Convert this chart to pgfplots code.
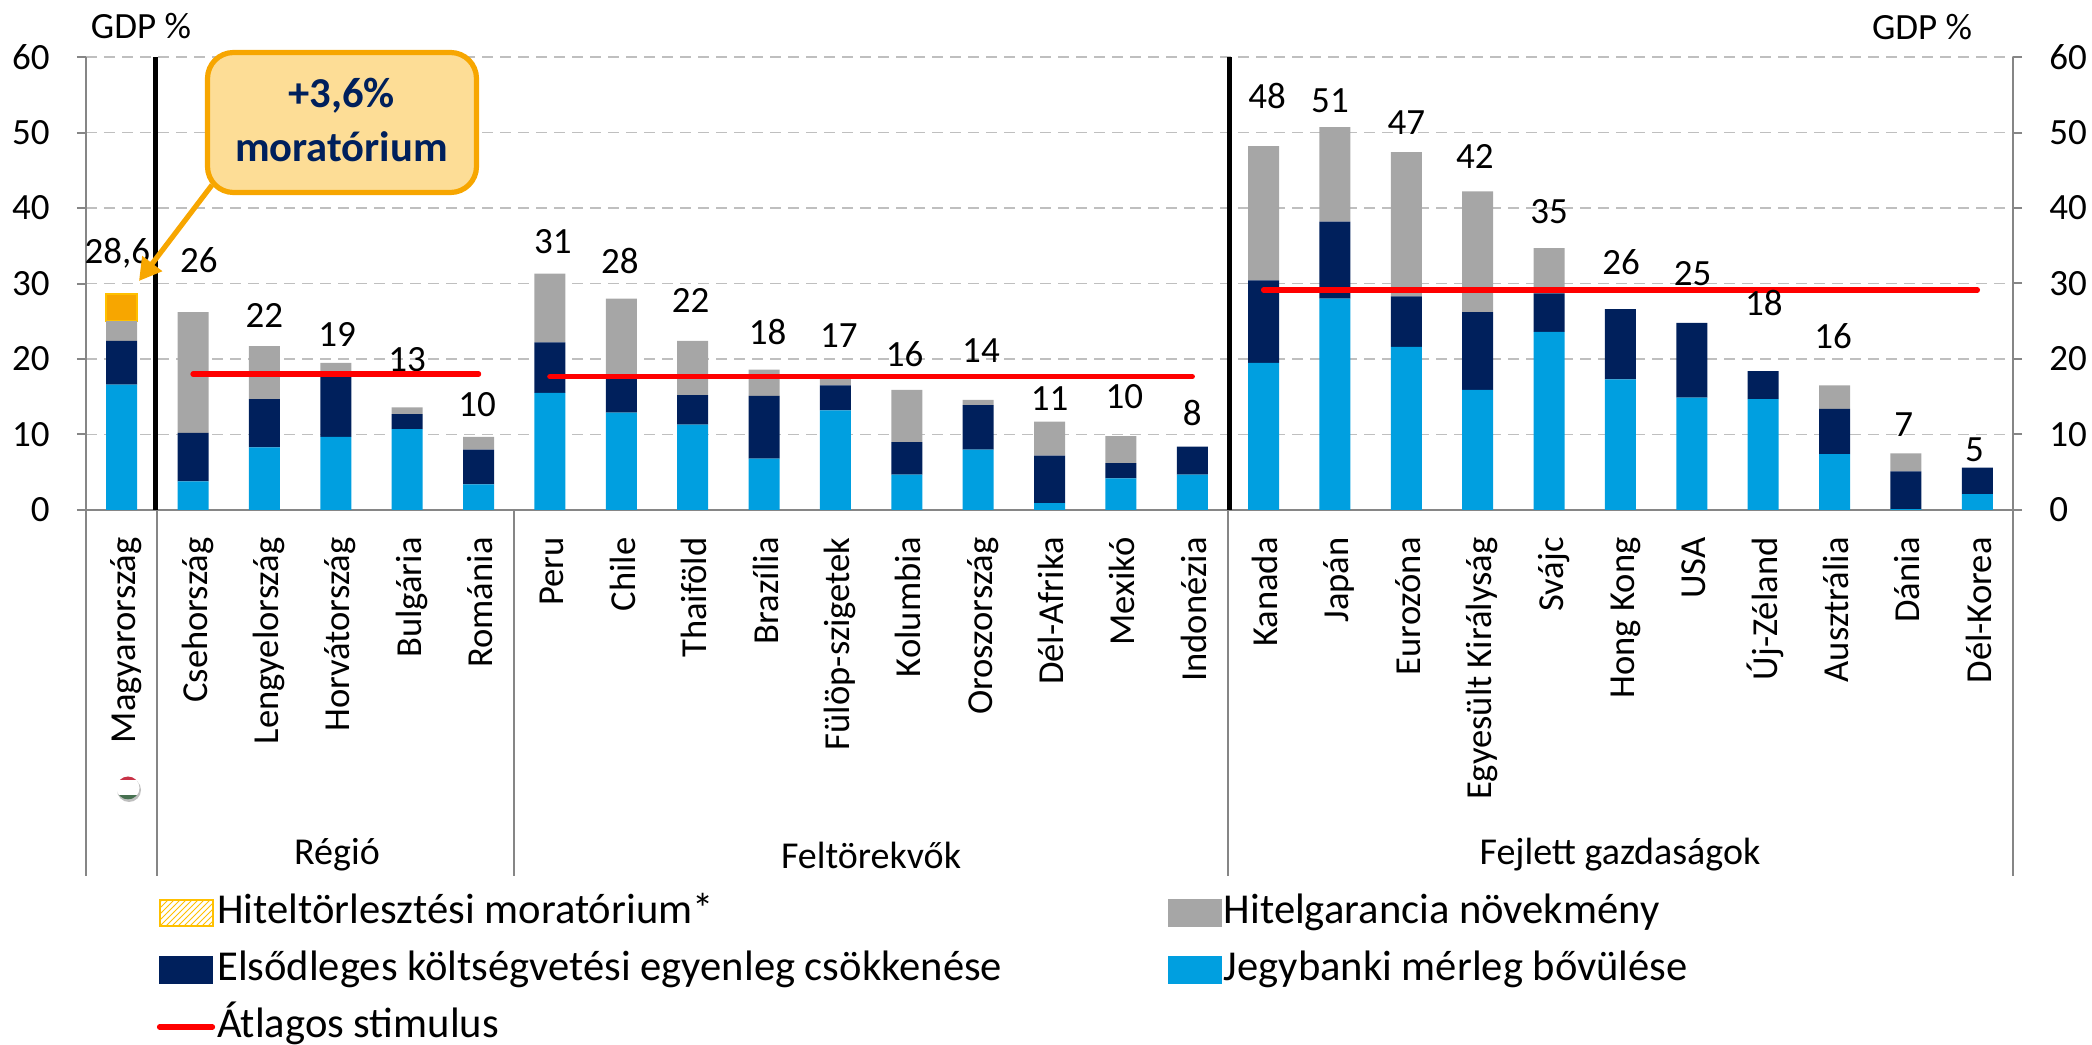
\documentclass[border=0pt]{standalone}
\usepackage{pgfplots}
\usepackage{pgfplotstable}
\usepackage{fontspec}
\setmainfont{Carlito}
\pgfplotsset{compat=1.18}
\usetikzlibrary{patterns,arrows.meta}
\definecolor{cblue}{HTML}{009FE0}
\definecolor{cnavy}{HTML}{00205C}
\definecolor{cgray}{HTML}{A6A6A6}
\definecolor{corange}{HTML}{F7A600}
\definecolor{cyell}{HTML}{FFC000}
\definecolor{cspine}{HTML}{868686}
\definecolor{cgrid}{HTML}{BFBFBF}
\definecolor{cbox}{HTML}{FDDD96}
\definecolor{cred}{HTML}{FF0000}
\pgfplotstableread{
x  blue navy gray
0  16.6 5.8 2.6
1  3.8  6.4 16.0
2  8.3  6.4 7.0
3  9.7  8.6 1.2
4  10.7 2.0 0.9
5  3.4  4.6 1.7
6  15.5 6.7 9.1
7  12.9 4.9 10.2
8  11.3 3.9 7.2
9  6.8  8.3 3.5
10 13.2 3.3 1.3
11 4.7  4.3 6.9
12 8.0  5.9 0.7
13 0.9  6.3 4.5
14 4.2  2.0 3.6
15 4.7  3.7 0
16 19.5 10.9 17.8
17 28.0 10.2 12.5
18 21.6 6.7 19.1
19 15.9 10.3 16.0
20 23.6 5.1 6.0
21 17.3 9.3 0
22 14.9 9.9 0
23 14.7 3.7 0
24 7.4  6.0 3.1
25 0.1  5.0 2.4
26 2.1  3.5 0
}\stimulus
\pgfplotstableread{
lx    ly   label
-0.06 34.3 28,6
1.08  33.1 26
2.0   25.75 22
3.02  23.2 19
4.0   20.0 13
4.98  14.0 10
6.04  35.6 31
6.98  33.05 28
7.97  27.8 22
9.05  23.6 18
10.05 23.1 17
10.97 20.7 16
12.04 21.1 14
13.0  14.7 11
14.05 15.0 10
15.0  12.9 8
16.05 54.9 48
16.93 54.2 51
18.0  51.3 47
18.96 46.8 42
20.0  39.5 35
21.01 32.8 26
22.01 31.3 25
23.01 27.45 18
23.98 23.1 16
24.97 11.3 7
25.96 8.0 5
}\labels
\newcommand{\fs}{\fontsize{18.5}{22}\selectfont}
\begin{document}
\begin{tikzpicture}
\path[use as bounding box] (0,0) rectangle (1046pt,522pt);
% base axis: bars
\begin{axis}[
  at={(43pt,267pt)}, anchor=south west,
  scale only axis, width=963.5pt, height=226.5pt,
  xmin=-0.5, xmax=26.5, ymin=0, ymax=60,
  ybar stacked, bar width=15.5pt,
  axis x line*=bottom, axis y line*=left,
  axis line style={cspine, line width=1pt, -},
  xtick={0,...,26},
  xticklabels={Magyarország,Csehország,Lengyelország,Horvátország,Bulgária,Románia,Peru,Chile,Thaiföld,Brazília,Fülöp-szigetek,Kolumbia,Oroszország,Dél-Afrika,Mexikó,Indonézia,Kanada,Japán,Eurozóna,Egyesült Királyság,Svájc,Hong Kong,USA,Új-Zéland,Ausztrália,Dánia,Dél-Korea},
  xtick style={draw=none},
  xticklabel style={rotate=90, anchor=east, inner sep=0pt, text height=14pt, text depth=0pt, xshift=-9pt, font=\fontsize{18.3}{22}\selectfont},
  ytick={0,10,...,60},
  ytick style={cspine, line width=1pt},
  tick align=outside, major tick length=4.5pt,
  yticklabel style={font=\fs, inner sep=0pt, xshift=-13.5pt, /pgf/number format/assume math mode=true},
  ymajorgrids,
  grid style={cgrid, line width=0.9pt, dash pattern=on 5.5pt off 3.5pt},
]
\addplot[fill=cblue, draw=none] table[x=x,y=blue] {\stimulus};
\addplot[fill=cnavy, draw=none] table[x=x,y=navy] {\stimulus};
\addplot[fill=cgray, draw=none] table[x=x,y=gray] {\stimulus};
\addplot[fill=corange, draw=cyell, line width=1pt] coordinates {(0,3.6)};
\end{axis}
% overlay axis: right scale, lines, value labels
\begin{axis}[
  at={(43pt,267pt)}, anchor=south west,
  scale only axis, width=963.5pt, height=226.5pt,
  xmin=-0.5, xmax=26.5, ymin=0, ymax=60,
  clip=false,
  hide x axis,
  axis y line*=right,
  axis line style={cspine, line width=1pt, -},
  ytick={0,10,...,60},
  ytick style={cspine, line width=1pt},
  tick align=outside, major tick length=4.5pt,
  yticklabel style={font=\fs, inner sep=0pt, xshift=13.5pt, /pgf/number format/assume math mode=true},
]
% separators
\addplot[forget plot, cspine, line width=1pt] coordinates {(-0.5,0) (-0.5,-48.5)};
\addplot[forget plot, cspine, line width=1pt] coordinates {(0.5,0) (0.5,-48.5)};
\addplot[forget plot, cspine, line width=1pt] coordinates {(5.5,0) (5.5,-48.5)};
\addplot[forget plot, cspine, line width=1pt] coordinates {(15.5,0) (15.5,-48.5)};
\addplot[forget plot, cspine, line width=1pt] coordinates {(26.5,0) (26.5,-48.5)};
\addplot[forget plot, black, line width=2.7pt] coordinates {(0.47,0) (0.47,60)};
\addplot[forget plot, black, line width=2.7pt] coordinates {(15.52,0) (15.52,60)};
% averages
\addplot[forget plot, cred, line width=2.7pt, line cap=round] coordinates {(6,17.66) (15,17.66)};
\addplot[forget plot, cred, line width=2.7pt, line cap=round] coordinates {(16,29.15) (26,29.15)};
% value labels
\addplot[forget plot, draw=none, mark=none, nodes near coords, point meta=explicit symbolic,
  every node near coord/.style={anchor=center, inner sep=0pt, font=\fs, text depth=0pt, text=black}]
  table[x=lx,y=ly,meta=label] {\labels};
\end{axis}
% third axis: legend and first average line
\begin{axis}[
  at={(43pt,267pt)}, anchor=south west,
  scale only axis, width=963.5pt, height=226.5pt,
  xmin=-0.5, xmax=26.5, ymin=0, ymax=60,
  clip=false, hide axis,
  legend columns=2,
  legend cell align=left,
  legend style={
    at={(0.0368,-0.85)}, anchor=north west, draw=none, fill=none,
    inner sep=0pt, outer sep=0pt,
    font=\fontsize{21.3}{25}\selectfont,
    nodes={inner sep=0pt, text height=14pt, text depth=4pt},
    row sep=10.5pt,
    /tikz/column 2/.style={column sep=83pt},
  },
]
\addlegendimage{legend image code/.code={\path[pattern=north east lines, pattern color=cyell] (0pt,-6.6pt) rectangle (26.5pt,6.6pt); \draw[cyell, line width=1pt] (0pt,-6.6pt) rectangle (26.5pt,6.6pt); \path (27.5pt,0);}}
\addlegendentry{Hiteltörlesztési moratórium*}
\addlegendimage{legend image code/.code={\fill[cgray] (0pt,-6.6pt) rectangle (26.5pt,6.6pt); \path (27.5pt,0);}}
\addlegendentry{Hitelgarancia növekmény}
\addlegendimage{legend image code/.code={\fill[cnavy] (0pt,-6.6pt) rectangle (26.5pt,6.6pt); \path (27.5pt,0);}}
\addlegendentry{Elsődleges költségvetési egyenleg csökkenése}
\addlegendimage{legend image code/.code={\fill[cblue] (0pt,-6.6pt) rectangle (26.5pt,6.6pt); \path (27.5pt,0);}}
\addlegendentry{Jegybanki mérleg bővülése}
\addplot[cred, line width=2.7pt, line cap=round, legend image code/.code={\draw[cred, line width=2.6pt, line cap=round] (0pt,0) -- (26.5pt,0); \path (27.5pt,0);}] coordinates {(1,18.0) (5,18.0)};
\addlegendentry{Átlagos stimulus}
\end{axis}
% annotations in reference pixel coordinates
\begin{scope}[x=0.5pt,y=-0.5pt,shift={(0pt,522pt)}]
\node[font=\fs] at (141,26) {GDP \%};
\node[font=\fs] at (1922,27) {GDP \%};
\draw[corange, line width=2.6pt, -{Triangle[length=11pt,width=12pt]}] (212,185) -- (139,281);
\draw[corange, fill=cbox, line width=2.6pt, rounded corners=13pt] (207.5,52.5) rectangle (476.5,192.5);
\node[cnavy, font=\fontsize{21.3}{25}\bfseries\selectfont] at (341.5,96) {+3,6\%};
\node[cnavy, font=\fontsize{21.3}{25}\bfseries\selectfont] at (341.5,147) {moratórium};
\node[font=\fontsize{19}{23}\selectfont] at (337,855) {Régió};
\node[font=\fontsize{19}{23}\selectfont] at (871,855) {Feltörekvők};
\node[font=\fontsize{19}{23}\selectfont] at (1620,855) {Fejlett gazdaságok};
\fill[black!25] (129,790) circle (12);
\begin{scope}
\clip (128,788) circle (11.5);
\fill[white] (110,770) rectangle (146,806);
\fill[fill={rgb,255:red,200;green,50;blue,70}] (110,770) rectangle (146,780.5);
\fill[fill={rgb,255:red,70;green,112;blue,80}] (110,795.5) rectangle (146,806);
\end{scope}
\end{scope}
\end{tikzpicture}
\end{document}
